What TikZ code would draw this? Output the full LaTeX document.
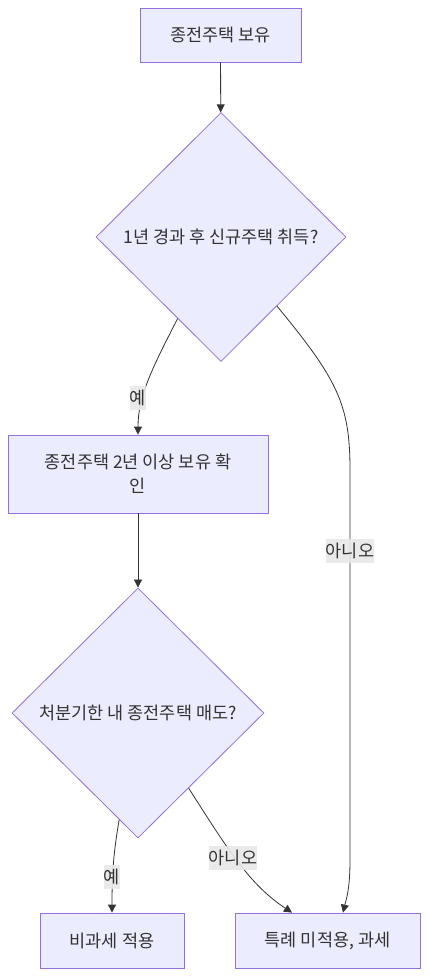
\documentclass[tikz,border=0pt]{standalone}
\usepackage{fontspec}
\setmainfont{Noto Sans CJK KR}
\usetikzlibrary{shapes.geometric,arrows.meta}
\definecolor{nodefill}{HTML}{ECECFF}
\definecolor{nodeline}{HTML}{9370DB}
\definecolor{txt}{HTML}{333333}
\definecolor{lblbg}{HTML}{E8E8E8}
\begin{document}
\begin{tikzpicture}[x=1pt,y=-1pt,
  every node/.style={font=\fontsize{17.5}{24}\selectfont, text=txt},
  procbox/.style={draw=nodeline, fill=nodefill, line width=0.8pt, inner sep=0pt, align=center},
  decision/.style={draw=nodeline, fill=nodefill, line width=0.8pt, diamond, inner sep=0pt, align=center},
  edge/.style={draw=txt, line width=0.8pt, -{Triangle[length=8pt,width=8pt]}},
  elabel/.style={fill=lblbg, inner sep=0pt, minimum height=24pt, fill opacity=0.9, text opacity=1}
]
\useasboundingbox (0,0) rectangle (429,976);
\node[procbox, minimum width=161pt, minimum height=54pt] (A) at (220.5,35) {종전주택 보유};
\node[decision, minimum width=250pt, minimum height=249pt] (B) at (221,237) {1년 경과 후 신규주택 취득?};
\node[procbox, minimum width=260pt, minimum height=78pt] (C) at (138,474) {종전주택 2년 이상 보유 확\\인};
\node[decision, minimum width=252pt, minimum height=250pt] (D) at (138,713) {처분기한 내 종전주택 매도?};
\node[procbox, minimum width=144pt, minimum height=55pt] (E) at (112,940.5) {비과세 적용};
\node[procbox, minimum width=185pt, minimum height=55pt] (F) at (327.5,940.5) {특례 미적용, 과세};

\draw[edge] (A) -- (B);
\draw[edge] (B.242) .. controls (150,372) and (138,398) .. (C.north);
\draw[edge] (B.309) .. controls (338,380) and (350,405) .. (350,470) -- (350,860) .. controls (350,890) and (346,900) .. (F.north -| 343,0);
\draw[edge] (C) -- (D);
\draw[edge] (D.260) .. controls (114,850) and (112,870) .. (E.north);
\draw[edge] (D.304) .. controls (228,850) and (250,885) .. (F.north -| 292,0);

\node[elabel] (L1) at (138,398) {예};
\node[elabel] (L2) at (350,551) {아니오};
\node[elabel] (L3) at (112,877) {예};
\node[elabel] (L4) at (233,858) {아니오};
\end{tikzpicture}
\end{document}
